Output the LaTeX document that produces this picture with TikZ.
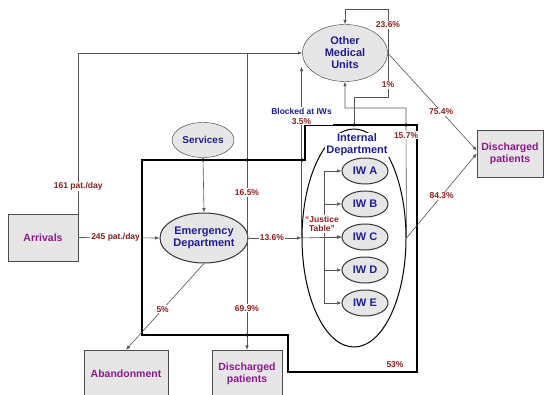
\documentclass[tikz,border=0pt]{standalone}
\usepackage{fontspec}
\setmainfont{Liberation Sans}
\usetikzlibrary{shapes.geometric,arrows.meta}

\definecolor{boxgray}{RGB}{230,230,230}
\definecolor{boxtext}{RGB}{140,25,140}
\definecolor{unittext}{RGB}{30,30,150}
\definecolor{labtext}{RGB}{140,30,30}
\definecolor{flowgray}{RGB}{85,85,85}

\tikzset{
  box/.style={draw=black!70, fill=boxgray, minimum width=70pt, minimum height=47pt,
    align=center, text=boxtext, font=\fontsize{10.5}{12}\selectfont\bfseries},
  unit/.style={ellipse, draw=black!80, fill=boxgray, inner sep=0pt, align=center,
    text=unittext, font=\fontsize{11}{12}\selectfont\bfseries},
  ward/.style={unit, line width=1pt, minimum width=46pt, minimum height=26pt},
  link/.style={draw=flowgray, line width=0.6pt},
  flow/.style={link, -{Latex[length=4.5pt,width=3.5pt]}},
  lab/.style={text=labtext, fill=white, inner sep=1pt, font=\fontsize{8.5}{9.5}\selectfont\bfseries},
  jdot/.style={circle, fill=black, inner sep=0pt, minimum size=3.5pt},
  border/.style={line width=2.6pt, line join=miter},
}

\begin{document}
\begin{tikzpicture}[x=1pt,y=-1pt]
\useasboundingbox (0,0) rectangle (545,395);
\clip (0,0) rectangle (545,395);
\fill[white] (0,0) rectangle (545,395);

% hospital boundary
\draw[border] (142,160) -- (305,160) -- (305,125) -- (417,125) -- (417,372)
  -- (288,372) -- (288,335) -- (142,335) -- cycle;

% boxes
\node[box] (arr) at (43,237.5) {Arrivals};
\node[box, minimum width=66pt] (dis1) at (510,153.5) {Discharged\\patients};
\node[box, minimum width=84pt, minimum height=48pt] (aband) at (126,374) {Abandonment};
\node[box, minimum height=48pt] (dis2) at (247,374) {Discharged\\patients};

% units
\node[unit, minimum width=85pt, minimum height=57pt] (omu) at (345,53) {Other\\Medical\\Units};
\node[unit, minimum width=62pt, minimum height=35pt, font=\fontsize{10}{12}\selectfont\bfseries] (serv) at (203,140) {Services};
\node[unit, line width=1pt, minimum width=88pt, minimum height=50pt] (ed) at (204,238) {Emergency\\Department};

% internal department with its wards
\node[ellipse, draw, line width=1pt, minimum width=104pt, minimum height=218pt] (intd) at (354,238) {};
\foreach \n/\t/\y in {a/A/171,b/B/204,c/C/237,d/D/270,e/E/303}
  \node[ward] (iw\n) at (365,\y) {IW \t};

\coordinate (jt) at (324,171);
\coordinate (id-t) at (354,125);
\coordinate (id-r) at (406,125);
\coordinate (turn) at (arr.north east |- omu.west);
\coordinate (split) at (dis2.north |- omu.west);

% flows
\draw[link] (arr.north east) -- node[lab, pos=0.17]{161 pat./day} (turn);
\draw[flow] (turn) -- (omu.west);
\draw[flow] (split) -- node[lab, pos=0.47]{16.5\%} node[lab, pos=0.86]{69.9\%} (dis2.north);
\draw[flow] (arr.east) -- node[lab, pos=0.46]{245 pat./day} (ed.west);
\draw[flow] (serv.south) -- (ed.north);
\draw[flow] (ed.south) -- node[lab, pos=0.53]{5\%} (aband.north);
\draw[flow] (ed.east) -- node[lab, pos=0.44]{13.6\%} (intd.west);
\draw[flow] (intd.west) -- (iwc.west);
\draw[link] (jt) -- (jt |- iwe);
\foreach \n in {a,b,c,d,e}
  \draw[flow] (jt |- iw\n) -- (iw\n.west);
\node[lab, align=center] (jtab) at (322,224) {``Justice\\Table''};

\draw[flow] (intd.west) -- node[lab, pos=0.71, align=center, text=unittext]
  {Blocked at IWs\\\textcolor{labtext}{3.5\%}} (intd.west |- omu.200);
\draw[flow] (omu.east) -- node[lab, pos=0.6]{75.4\%} (dis1.175);
\draw[flow] (intd.east) -- node[lab, pos=0.5]{84.3\%} (dis1.west);
\draw[flow] (intd.east) -- node[lab, pos=0.91]{15.7\%} (id-r) -- ++(0,-17) -| (omu.south);
\draw[flow] (id-t) -- ++(0,-28) -- ++(34,0)
  -- node[lab, pos=0.14]{1\%} node[lab, pos=0.82]{23.6\%} ++(0,-88) -| (omu.north);

\node[fill=white, inner sep=1pt, align=center, text=unittext,
  font=\fontsize{11}{12}\selectfont\bfseries] (intdl) at (357,145) {Internal\\Department};

% junctions on the boundary
\foreach \p [count=\i] in {(203,160),(247,160),(302,160),(354,125),(406,125),(247,335)}
  \node[jdot] (dot\i) at \p {};

\node[lab, fill=none] (share) at (395,365) {53\%};
\end{tikzpicture}
\end{document}
